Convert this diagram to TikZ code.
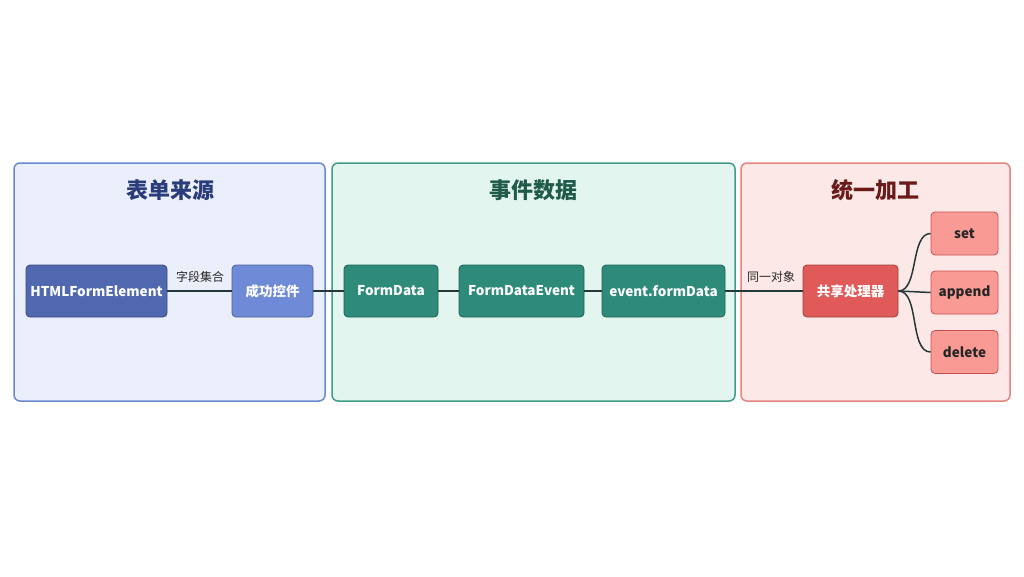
\documentclass[tikz,border=0pt]{standalone}
\usepackage{fontspec}
\setmainfont{Noto Sans CJK SC}
\begin{document}
\begin{tikzpicture}[x=1pt,y=-1pt]
\definecolor{bpan}{HTML}{EBEFFB}\definecolor{bbor}{HTML}{6A8AD0}
\definecolor{gpan}{HTML}{E2F6EF}\definecolor{gbor}{HTML}{3E9C88}
\definecolor{rpan}{HTML}{FCE9E7}\definecolor{rbor}{HTML}{E58480}
\definecolor{b1}{HTML}{5068B0}\definecolor{b2}{HTML}{6F8BD8}
\definecolor{teal}{HTML}{2E8B7A}\definecolor{red1}{HTML}{E05A5A}\definecolor{red2}{HTML}{F99A95}
\definecolor{ln}{HTML}{243838}
\definecolor{tt1}{HTML}{2A3D7A}\definecolor{tt2}{HTML}{1F5A4A}\definecolor{tt3}{HTML}{6B1A1A}
\tikzset{
 panel/.style={draw=#1,line width=1.5pt,rounded corners=6pt},
 box/.style={draw=#1!70!black,line width=0.8pt,rounded corners=4pt,fill=#1,text=white,font=\bfseries\fontsize{13.5}{16}\selectfont,inner sep=0pt},
 sbox/.style={draw=red1!90!black,line width=0.8pt,rounded corners=4pt,fill=red2,text=black!85,font=\bfseries\fontsize{13.5}{16}\selectfont,inner sep=0pt,minimum width=67pt,minimum height=43pt},
 ttl/.style={font=\bfseries\fontsize{22}{26}\selectfont},
 lab/.style={font=\fontsize{12}{14}\selectfont,text=black!85},
 conn/.style={draw=ln,line width=1.5pt}}
\useasboundingbox (0,0) rectangle (1024,576);
\fill[white] (0,0) rectangle (1024,576);
\draw[panel=bbor,fill=bpan] (14,163) rectangle (325,401);
\draw[panel=gbor,fill=gpan] (332,163) rectangle (735,401);
\draw[panel=rbor,fill=rpan] (741,163) rectangle (1010,401);
\node[ttl,text=tt1] (t1) at (170,190) {表单来源};
\node[ttl,text=tt2] (t2) at (533,190) {事件数据};
\node[ttl,text=tt3] (t3) at (875,190) {统一加工};
\node[box=b1,minimum width=141pt,minimum height=52pt] (a) at (96.5,291) {HTMLFormElement};
\node[box=b2,minimum width=81pt,minimum height=52pt] (b) at (272.5,291) {成功控件};
\node[box=teal,minimum width=94pt,minimum height=52pt] (c) at (391,291) {FormData};
\node[box=teal,minimum width=125pt,minimum height=52pt] (d) at (521.5,291) {FormDataEvent};
\node[box=teal,minimum width=123pt,minimum height=52pt] (e) at (663.5,291) {event.formData};
\node[box=red1,minimum width=95pt,minimum height=52pt] (f) at (850.5,291) {共享处理器};
\node[sbox] (s1) at (964.5,233.5) {set};
\node[sbox] (s2) at (964.5,292.5) {append};
\node[sbox] (s3) at (964.5,352) {delete};
\node[lab] (l1) at (200,277) {字段集合};
\node[lab] (l2) at (771,277) {同一对象};
\draw[conn] (a) -- (b); \draw[conn] (b) -- (c); \draw[conn] (c) -- (d);
\draw[conn] (d) -- (e); \draw[conn] (e) -- (f);
\draw[conn] (f.east) to[out=0,in=180,looseness=0.8] (s1.west);
\draw[conn] (f.east) -- (s2.west);
\draw[conn] (f.east) to[out=0,in=180,looseness=0.8] (s3.west);
\end{tikzpicture}
\end{document}
